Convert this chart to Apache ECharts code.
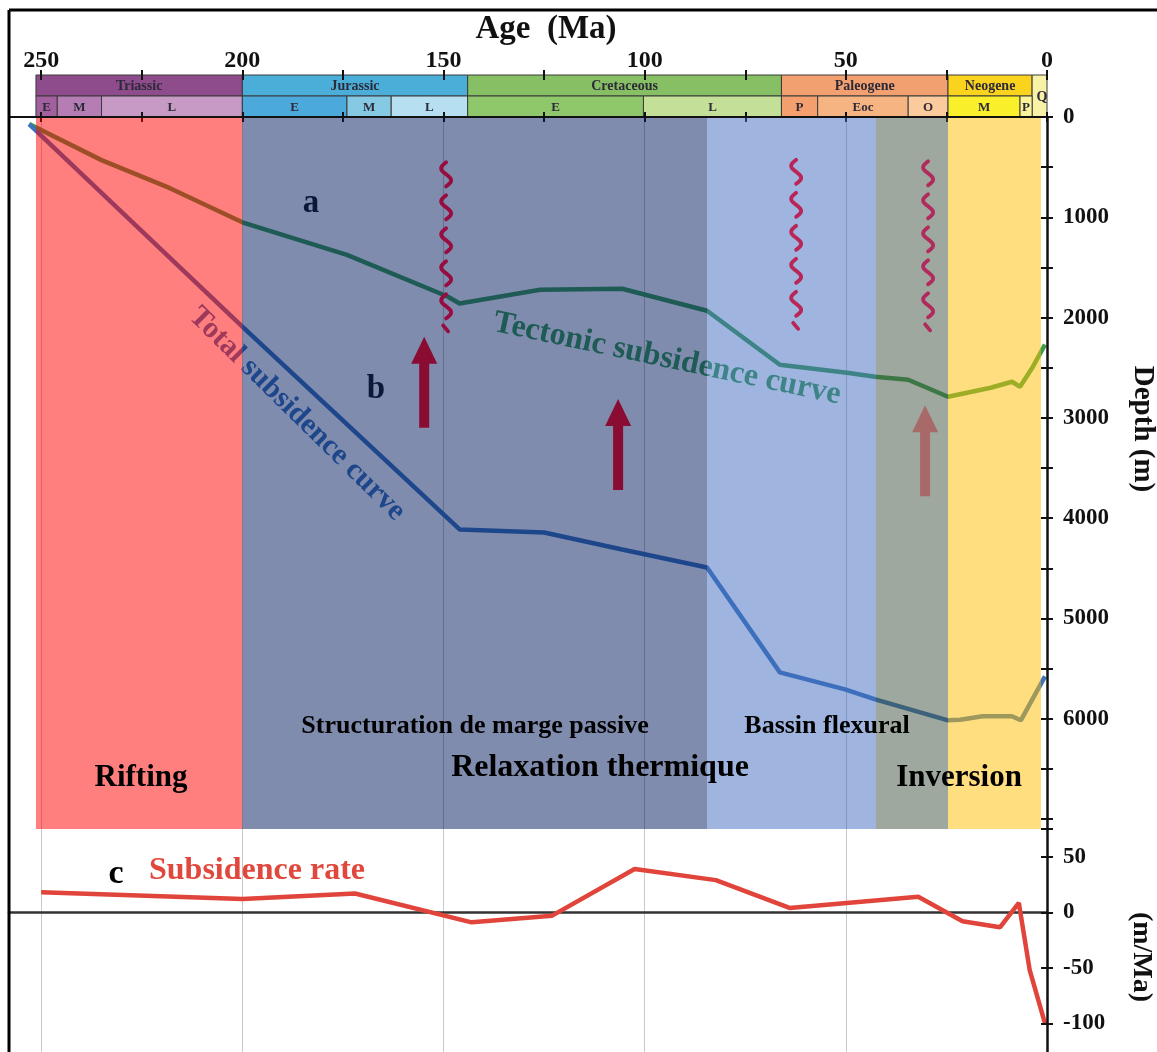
<!DOCTYPE html>
<html>
<head>
<meta charset="utf-8">
<script src="https://cdn.jsdelivr.net/npm/echarts@6/dist/echarts.min.js"></script>
<style>
html,body{margin:0;padding:0;background:#fff}
#chart{width:1157px;height:1052px}
</style>
</head>
<body>
<div id="chart"></div>
<script>
// ages in Ma, depths in m, rates in m/Ma
var tectonicAge   = [253, 235, 218, 200, 174, 149, 146, 126, 105.6, 84.5, 66.4, 49.7, 42.7, 34.5, 24.6, 14, 8.7, 6.7, 3.5, 0.5];
var tectonicDepth = [70, 430, 710, 1050, 1375, 1790, 1860, 1723, 1713, 1932, 2470, 2550, 2590, 2620, 2790, 2700, 2640, 2690, 2490, 2270];

var totalAge   = [253, 200, 146, 125, 105.6, 84.5, 66.4, 50.2, 42.7, 24.6, 21.6, 16, 8.7, 6.5, 0.5];
var totalDepth = [70, 2090, 4113, 4143, 4313, 4492, 5538, 5707, 5807, 6016, 6010, 5976, 5976, 6016, 5578];

var rateAge   = [250, 200, 172, 143, 123, 102.5, 82.3, 64, 32, 21, 11.7, 7, 4.3, 0.5];
var rateValue = [18, 12, 17, -9, -3, 39, 29, 4, 14, -8, -13.5, 8.5, -52, -100];

// tectonic phases (background bands)
var phaseStart = [251.3, 200, 84.5, 42.5, 24.6];
var phaseEnd   = [200, 84.5, 42.5, 24.6, 1.5];

// geological time scale
var periodName  = ['Triassic', 'Jurassic', 'Cretaceous', 'Paleogene', 'Neogene', 'Q'];
var periodStart = [251.3, 200, 144, 66, 24.6, 3.7];
var periodEnd   = [200, 144, 66, 24.6, 3.7, 0];
var epochName  = ['E', 'M', 'L', 'E', 'M', 'L', 'E', 'L', 'P', 'Eoc', 'O', 'M', 'P'];
var epochStart = [251.3, 246, 235, 200, 174, 163, 144, 100.3, 66, 57, 34.5, 24.6, 6.7];
var epochEnd   = [246, 235, 200, 174, 163, 144, 100.3, 66, 57, 34.5, 24.6, 6.7, 3.7];

// uplift arrows and unconformities
var arrowAge = [154.8, 106.6, 30.3];
var arrowDepth = [2645, 3267, 3327];
var wavyAge = [149.6, 62.6, 29.8];
var wavyDepth = [1300, 1275, 1290];

// tick labels
var ageLabels = [0, 50, 100, 150, 200, 250];
var depthLabels = [0, 1000, 2000, 3000, 4000, 5000, 6000];
var rateLabels = [-100, -50, 0, 50];

// styles
var phaseColors = ['rgba(255,0,0,0.5)', 'rgba(0,25,93,0.5)', 'rgba(63,107,193,0.5)', 'rgba(61,81,61,0.5)', 'rgba(255,189,0,0.5)'];
var periodColors = ['#8E4C8D', '#4AAED9', '#86BF64', '#F2A06F', '#FAD31E', '#F8F2A6'];
var epochColors = ['#A2609F', '#B57DB3', '#C69AC4', '#4CA9DC', '#85C9E3', '#B6DFF1', '#8FC76B', '#C4DF98', '#F3A06E', '#F6B483', '#FBCB9E', '#FAEF2B', '#FBF49B'];
var arrowColors = ['#8A0C32', '#8A0C32', '#A86A68'];
var wavyColors = ['#980C40', '#B82556', '#B02A5E'];

var serif = '"Liberation Serif", "Times New Roman", serif';

function zip(a, b) {
    return a.map(function (v, i) { return [v, b[i]]; });
}

// time scale boxes: [start, end, rowBottom, rowTop]
var scaleData = [], scaleNames = [], scaleColors = [];
periodName.forEach(function (n, i) {
    var q = n === 'Q';
    scaleData.push([periodStart[i], periodEnd[i], q ? 0 : 1, 2]);
    scaleNames.push(n);
    scaleColors.push(periodColors[i]);
});
epochName.forEach(function (n, i) {
    scaleData.push([epochStart[i], epochEnd[i], 0, 1]);
    scaleNames.push(n);
    scaleColors.push(epochColors[i]);
});

var myChart = echarts.init(document.getElementById('chart'));

var labelStyle = { fontFamily: serif, fontWeight: 'bold', fontSize: 23, color: '#111' };
var tickLine = { color: '#111', width: 2 };

function renderWavy(params, api) {
    var c = api.coord([api.value(0), api.value(1)]);
    var color = wavyColors[params.dataIndex];
    var top = c[1] - 85, children = [];
    for (var k = 0; k < 5; k++) {
        var pts = [];
        for (var j = 0; j <= 18; j++) {
            var t = j / 18;
            pts.push([c[0] + 1 - 5 * Math.sin(2 * Math.PI * t), top + k * 33 + t * 24]);
        }
        children.push({ type: 'polyline', shape: { points: pts },
            style: { stroke: color, lineWidth: 3.8, lineCap: 'round', fill: null } });
    }
    children.push({ type: 'line', shape: { x1: c[0] - 2, y1: top + 163, x2: c[0] + 3, y2: top + 169 },
        style: { stroke: color, lineWidth: 3.8, lineCap: 'round' } });
    return { type: 'group', children: children };
}

var option = {
    animation: false,
    backgroundColor: '#fff',
    grid: [
        { left: 9, right: 110, top: 117, height: 712, outerBoundsMode: 'none' },
        { left: 9, right: 110, top: 829, height: 250, outerBoundsMode: 'none' },
        { left: 9, right: 110, top: 75, height: 42, outerBoundsMode: 'none' }
    ],
    xAxis: [
        { gridIndex: 0, type: 'value', min: 0, max: 258, inverse: true, position: 'top', interval: 25, z: 5,
          axisLine: { show: true, onZero: false, lineStyle: { color: '#111', width: 2 } },
          axisTick: { show: true, length: 5, lineStyle: tickLine },
          axisLabel: { show: false }, splitLine: { show: false } },
        { gridIndex: 0, type: 'value', min: 0, max: 258, inverse: true, position: 'top', interval: 50, z: 0,
          axisLine: { show: false, onZero: false },
          axisTick: { show: true, inside: true, length: 5, lineStyle: tickLine },
          minorTick: { show: true, splitNumber: 2, length: 5, lineStyle: tickLine },
          axisLabel: { show: false },
          splitLine: { show: true, lineStyle: { color: '#c4c4c4', width: 1 } } },
        { gridIndex: 1, type: 'value', min: 0, max: 258, inverse: true, position: 'bottom', interval: 50,
          axisLine: { show: true, onZero: true, lineStyle: { color: '#333', width: 2.5 } },
          axisTick: { show: false }, axisLabel: { show: false },
          splitLine: { show: true, lineStyle: { color: '#c8c8c8', width: 1 } } },
        { gridIndex: 2, type: 'value', min: 0, max: 258, inverse: true, position: 'top', interval: 25, z: 5,
          axisLine: { show: false, onZero: false },
          axisTick: { show: true, length: 5, lineStyle: tickLine },
          axisLabel: { margin: 2, fontSize: 24, fontFamily: serif, fontWeight: 'bold', color: '#111',
              formatter: function (v) { return ageLabels.indexOf(v) >= 0 ? String(v) : ''; } },
          splitLine: { show: false } },
        { gridIndex: 2, type: 'value', min: 0, max: 258, inverse: true, position: 'top', interval: 25, z: 5,
          axisLine: { show: false, onZero: false },
          axisTick: { show: true, inside: true, length: 5, lineStyle: tickLine },
          axisLabel: { show: false }, splitLine: { show: false } }
    ],
    yAxis: [
        { gridIndex: 0, type: 'value', min: 0, max: 7100, inverse: true, position: 'right', interval: 500, z: 5,
          axisLine: { show: true, onZero: false, lineStyle: { color: '#111', width: 2.5 } },
          axisTick: { show: true, length: 6, lineStyle: tickLine },
          axisLabel: Object.assign({ margin: 16, formatter: function (v) {
              return depthLabels.indexOf(v) >= 0 ? String(v) : '';
          } }, labelStyle),
          splitLine: { show: false } },
        { gridIndex: 0, type: 'value', min: 0, max: 7100, inverse: true, position: 'right', interval: 500, z: 5,
          axisLine: { show: false, onZero: false },
          axisTick: { show: true, inside: true, length: 6, lineStyle: tickLine },
          axisLabel: { show: false }, splitLine: { show: false } },
        { gridIndex: 1, type: 'value', min: -150, max: 75, position: 'right', interval: 50, z: 5,
          axisLine: { show: true, onZero: false, lineStyle: { color: '#111', width: 2.5 } },
          axisTick: { show: true, length: 6, lineStyle: tickLine },
          axisLabel: Object.assign({ margin: 16, formatter: function (v) {
              return rateLabels.indexOf(v) >= 0 ? String(v) : '';
          } }, labelStyle),
          splitLine: { show: false } },
        { gridIndex: 1, type: 'value', min: -150, max: 75, position: 'right', interval: 50, z: 5,
          axisLine: { show: false, onZero: false },
          axisTick: { show: true, inside: true, length: 6, lineStyle: tickLine },
          axisLabel: { show: false }, splitLine: { show: false } },
        { gridIndex: 2, type: 'value', min: 0, max: 2, show: false }
    ],
    series: [
        {
            name: 'phases', type: 'custom', xAxisIndex: 0, yAxisIndex: 0, z: 3, silent: true,
            data: zip(phaseStart, phaseEnd),
            renderItem: function (params, api) {
                var p1 = api.coord([api.value(0), 0]);
                var p2 = api.coord([api.value(1), 7100]);
                return { type: 'rect',
                    shape: { x: p1[0], y: p1[1], width: p2[0] - p1[0], height: p2[1] - p1[1] },
                    style: { fill: phaseColors[params.dataIndex] } };
            }
        },
        {
            name: 'Tectonic subsidence curve', type: 'line', xAxisIndex: 0, yAxisIndex: 0, z: 2,
            showSymbol: false, data: zip(tectonicAge, tectonicDepth),
            lineStyle: { color: '#3C9C4C', width: 4.5 }
        },
        {
            name: 'Total subsidence curve', type: 'line', xAxisIndex: 0, yAxisIndex: 0, z: 2,
            showSymbol: false, data: zip(totalAge, totalDepth),
            lineStyle: { color: '#3C73B9', width: 4.5 }
        },
        {
            name: 'arrows', type: 'scatter', xAxisIndex: 0, yAxisIndex: 0, z: 4, silent: true,
            symbol: 'path://M13,0 L26,27 L18,27 L18,91 L8,91 L8,27 L0,27 Z',
            symbolSize: [26, 91],
            data: zip(arrowAge, arrowDepth).map(function (p, i) {
                return { value: p, itemStyle: { color: arrowColors[i], opacity: 1 } };
            })
        },
        {
            name: 'unconformities', type: 'custom', xAxisIndex: 0, yAxisIndex: 0, z: 4, silent: true,
            data: zip(wavyAge, wavyDepth),
            renderItem: renderWavy
        },
        {
            name: 'Subsidence rate', type: 'line', xAxisIndex: 2, yAxisIndex: 2, z: 2,
            showSymbol: false, data: zip(rateAge, rateValue),
            lineStyle: { color: '#E0443A', width: 4.5 }
        },
        {
            name: 'timescale', type: 'custom', xAxisIndex: 3, yAxisIndex: 4, z: 2, silent: true,
            data: scaleData,
            renderItem: function (params, api) {
                var i = params.dataIndex;
                var p1 = api.coord([api.value(0), api.value(3)]);
                var p2 = api.coord([api.value(1), api.value(2)]);
                var isPeriod = i < periodName.length;
                var tx = (p1[0] + p2[0]) / 2;
                if (scaleNames[i] === 'Q') tx = p2[0] - 5;
                return { type: 'group', children: [
                    { type: 'rect',
                      shape: { x: p1[0], y: p1[1], width: p2[0] - p1[0], height: p2[1] - p1[1] },
                      style: { fill: scaleColors[i], stroke: '#3a3a3a', lineWidth: 1 } },
                    { type: 'text',
                      style: { text: scaleNames[i], x: tx, y: (p1[1] + p2[1]) / 2 + 1,
                               align: 'center', verticalAlign: 'middle',
                               font: 'bold ' + (isPeriod ? 14 : 13) + 'px ' + serif, fill: '#2d2a38' } }
                ] };
            }
        }
    ],
    graphic: [
        { type: 'line', z: 20, shape: { x1: 9, y1: 10, x2: 1157, y2: 10 }, style: { stroke: '#000', lineWidth: 3 } },
        { type: 'line', z: 20, shape: { x1: 9, y1: 10, x2: 9, y2: 1052 }, style: { stroke: '#000', lineWidth: 3 } },
        { type: 'text', z: 20, x: 546, y: 29, style: { text: 'Age  (Ma)', font: 'bold 33px ' + serif, fill: '#111', align: 'center', verticalAlign: 'middle' } },
        { type: 'text', z: 20, x: 1142, y: 429, rotation: -Math.PI / 2, style: { text: 'Depth (m)', font: 'bold 29px ' + serif, fill: '#111', align: 'center', verticalAlign: 'middle' } },
        { type: 'text', z: 20, x: 1141, y: 957, rotation: -Math.PI / 2, style: { text: '(m/Ma)', font: 'bold 28px ' + serif, fill: '#111', align: 'center', verticalAlign: 'middle' } },
        { type: 'text', z: 1, x: 297, y: 414, rotation: -0.778, style: { text: 'Total subsidence curve', font: 'bold 30px ' + serif, fill: '#3C73B9', align: 'center', verticalAlign: 'middle' } },
        { type: 'text', z: 1, x: 667, y: 359, rotation: -0.208, style: { text: 'Tectonic subsidence curve', font: 'bold 32px ' + serif, fill: '#3C9C4C', align: 'center', verticalAlign: 'middle' } },
        { type: 'text', z: 20, x: 311, y: 203, style: { text: 'a', font: 'bold 33px ' + serif, fill: '#0B1838', align: 'center', verticalAlign: 'middle' } },
        { type: 'text', z: 20, x: 376, y: 389, style: { text: 'b', font: 'bold 33px ' + serif, fill: '#0B1838', align: 'center', verticalAlign: 'middle' } },
        { type: 'text', z: 20, x: 116, y: 874, style: { text: 'c', font: 'bold 34px ' + serif, fill: '#000', align: 'center', verticalAlign: 'middle' } },
        { type: 'text', z: 20, x: 257, y: 871, style: { text: 'Subsidence rate', font: 'bold 32px ' + serif, fill: '#E0483E', align: 'center', verticalAlign: 'middle' } },
        { type: 'text', z: 20, x: 475, y: 726, style: { text: 'Structuration de marge passive', font: 'bold 26px ' + serif, fill: '#000', align: 'center', verticalAlign: 'middle' } },
        { type: 'text', z: 20, x: 827, y: 726, style: { text: 'Bassin flexural', font: 'bold 26px ' + serif, fill: '#000', align: 'center', verticalAlign: 'middle' } },
        { type: 'text', z: 20, x: 600, y: 768, style: { text: 'Relaxation thermique', font: 'bold 32px ' + serif, fill: '#000', align: 'center', verticalAlign: 'middle' } },
        { type: 'text', z: 20, x: 141, y: 778, style: { text: 'Rifting', font: 'bold 31px ' + serif, fill: '#000', align: 'center', verticalAlign: 'middle' } },
        { type: 'text', z: 20, x: 959, y: 778, style: { text: 'Inversion', font: 'bold 31px ' + serif, fill: '#000', align: 'center', verticalAlign: 'middle' } }
    ]
};

myChart.setOption(option);
</script>
</body>
</html>
